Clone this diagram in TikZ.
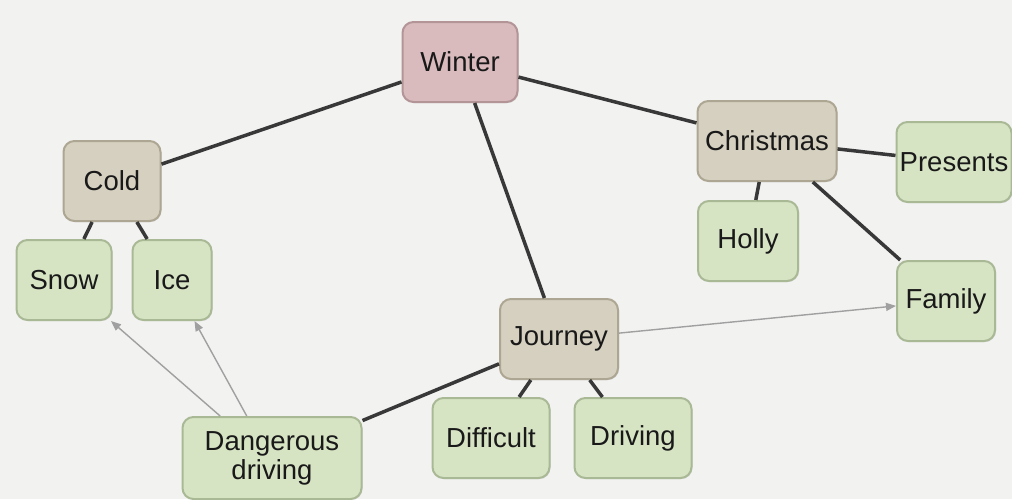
\documentclass[tikz,border=0pt]{standalone}
\usepackage{fontspec}
\setmainfont{Liberation Sans}
\usetikzlibrary{positioning}
\usetikzlibrary{arrows.meta}
\usetikzlibrary{shadows}
\definecolor{paper}{HTML}{F2F2F1}
\definecolor{pinkfill}{HTML}{D9BBBD}
\definecolor{pinkline}{HTML}{B49597}
\definecolor{tanfill}{HTML}{D6D0C0}
\definecolor{tanline}{HTML}{ADA692}
\definecolor{leaffill}{HTML}{D7E4C4}
\definecolor{leafline}{HTML}{A9B995}
\definecolor{linkgray}{HTML}{383838}
\definecolor{crossgray}{HTML}{A0A0A0}
\tikzset {
  x=1pt, y=1pt,
  % rounded box for every concept
  concept/.style = {rounded corners=11pt, line width=2pt, minimum height=80pt,
    inner sep=0pt, align=center, text=black!90,
    font=\fontsize{27.5}{29}\selectfont,
    drop shadow={shadow xshift=1pt, shadow yshift=-1pt, opacity=0.25}},
  % main topic, branches and leaves
  topic/.style={concept, draw=pinkline, fill=pinkfill},
  branch/.style={concept, draw=tanline, fill=tanfill},
  leaf/.style={concept, draw=leafline, fill=leaffill},
  % links of the map
  link/.style={linkgray, line width=3.5pt},
  % cross links
  cross/.style={crossgray, line width=1.4pt, -{Triangle[length=10pt, width=8pt]}},
}

\begin{document}
\begin{tikzpicture}
      \fill[paper] (0, 0) rectangle (1012, -499);
      \useasboundingbox (0, 0) rectangle (1012, -499);

      \node[topic, minimum width=115pt] (winter) at (460, -62) {Winter};

      \node[branch, minimum width=97pt] (cold) at (112, -181) {Cold};
      \node[branch, minimum width=139pt] (christmas) at (767, -141) {Christmas};
      \node[branch, minimum width=118pt] (journey) at (559, -339) {Journey};

      \node[leaf, minimum width=95pt] (snow) at (64, -280) {Snow};
      \node[leaf, minimum width=79pt] (ice) at (172, -280) {Ice};
      \node[leaf, minimum width=115pt] (presents) at (954, -162) {Presents};
      \node[leaf, minimum width=100pt] (holly) at (748, -241) {Holly};
      \node[leaf, minimum width=98pt] (family) at (946, -301) {Family};
      \node[leaf, minimum width=179pt, minimum height=82pt] (danger) at (272, -458) {Dangerous\\driving};
      \node[leaf, minimum width=117pt] (difficult) at (491, -438) {Difficult};
      \node[leaf, minimum width=117pt] (driving) at (633, -438) {Driving};

      \draw [link] (winter) -- (cold);
      \draw [link] (winter) -- (christmas);
      \draw [link] (winter) -- (journey);
      \draw [link] (cold) -- (snow);
      \draw [link] (cold) -- (ice);
      \draw [link] (christmas) -- (presents);
      \draw [link] (christmas) -- (holly);
      \draw [link] (christmas) -- (family);
      \draw [link] (journey) -- (danger);
      \draw [link] (journey) -- (difficult);
      \draw [link] (journey) -- (driving);

      \draw [cross] (journey) -- (family);
      \draw [cross] (danger.141) -- (snow);
      \draw [cross] (danger.121) -- (ice);
    \end{tikzpicture}
\end{document}
